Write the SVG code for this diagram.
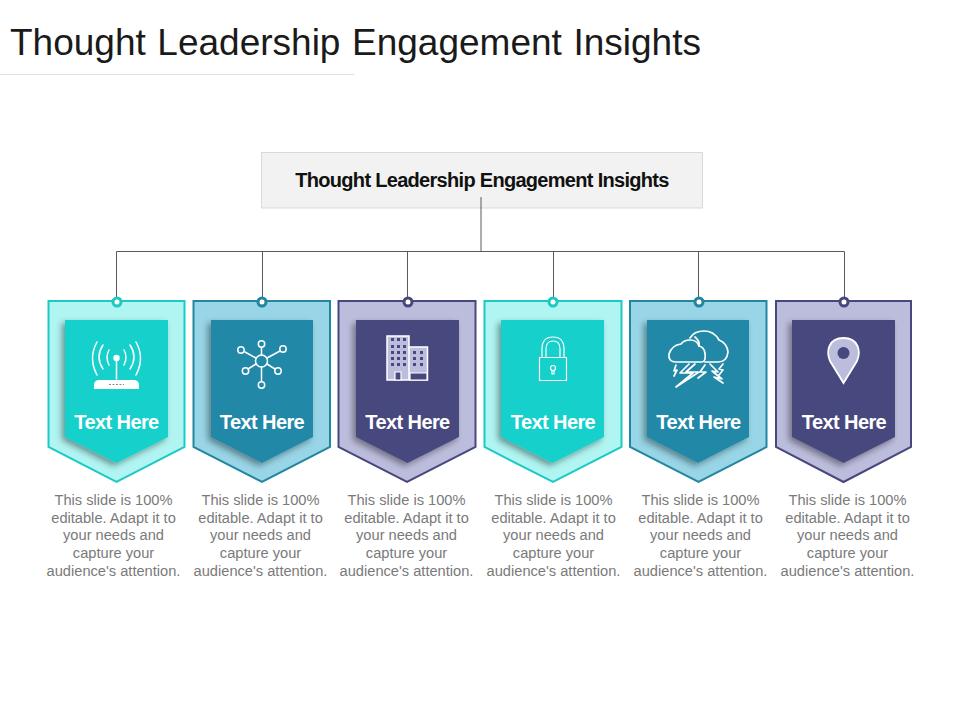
<svg xmlns="http://www.w3.org/2000/svg" xmlns:xlink="http://www.w3.org/1999/xlink" width="960" height="720" viewBox="0 0 960 720">
<style>
text{font-family:"Liberation Sans",Arial,sans-serif}
.title{font-size:37px;fill:#1a1a1a;word-spacing:1.300px}
.head{font-size:20px;font-weight:bold;fill:#111;text-anchor:middle;letter-spacing:-.7px}
.lab{font-size:20px;font-weight:bold;fill:#fff;text-anchor:middle;letter-spacing:-.6px}
.body{font-size:14.650px;fill:#7a7a7a;text-anchor:middle}
.con{fill:none;stroke:#5a5a5a;stroke-width:1}
.i{fill:none;stroke:#fff;stroke-width:1.500;stroke-linecap:round;stroke-linejoin:round}
.t .o{fill:#b0f5f2;stroke:#1cc9c5}.t .n{fill:#12d0cb}.t .d{stroke:#1cc9c5}
.b .o{fill:#98d5e6;stroke:#23859f}.b .n{fill:#2388a8}.b .d{stroke:#23859f}
.p .o{fill:#bcbcdc;stroke:#46487e}.p .n{fill:#46487e}.p .d{stroke:#46487e}
.o{stroke-width:2}.d{fill:#fff;stroke-width:3}
</style>
<defs>
<filter id="sh" x="-20%" y="-20%" width="140%" height="140%"><feDropShadow dx="-3" dy="3" stdDeviation="3" flood-color="#000" flood-opacity=".4"/></filter>
<g id="txt"><text class="body" y="505">This slide is 100%</text><text class="body" y="523">editable. Adapt it to</text><text class="body" y="540">your needs and</text><text class="body" y="558">capture your</text><text class="body" y="576">audience's attention.</text></g>
</defs>
<rect width="960" height="720" fill="#fff"/>
<text class="title" x="10" y="55">Thought Leadership Engagement Insights</text>
<rect x="0" y="74" width="354" height="1" fill="#e0e0e0"/>
<g id="header"><rect x="261.500" y="152.500" width="441" height="55.500" fill="#f2f2f2" stroke="#d9d9d9"/><text class="head" x="482" y="187">Thought Leadership Engagement Insights</text></g>
<g id="connectors"><path class="con" d="M481 197V252M116.500 297V251.500H844.500V297M262.500 251.500V297M407.500 251.500V297M553.500 251.500V297M698.500 251.500V297"/></g>

<g id="node1" class="t"><path class="o" d="M48.500 301H184.500V447L116.500 482L48.500 447Z"/><path class="n" filter="url(#sh)" d="M65 320H168V437L116.500 463L65 437Z"/><circle class="d" cx="117" cy="302" r="4"/>
<g><path class="i" d="M116.500 359V379M109 350Q105 357 109 365M124 350Q128 357 124 365M103 345Q95 357 103 369M130 345Q138 357 130 369M97 342Q88 358 97 375M136 342Q145 358 136 375"/><circle cx="116.500" cy="358" r="3.200" fill="#fff"/><path fill="#fff" d="M94 389V384Q95 380 99 380H134Q138 380 139 384V389Z"/><path stroke="#888" stroke-width="1" stroke-dasharray="2 1.500" d="M109 384.500H124"/></g>
<text class="lab" x="116.500" y="429">Text Here</text><use xlink:href="#txt" href="#txt" x="113.500"/></g>

<g id="node2" class="b"><path class="o" d="M193.500 301H330V447L262 482L193.500 447Z"/><path class="n" filter="url(#sh)" d="M211 320H313V437L262 463L211 437Z"/><circle class="d" cx="262" cy="302" r="4"/>
<g class="i"><circle cx="261.500" cy="361" r="6"/><path d="M261.500 355V348M261.500 367V381M256 358L245 352M267 358L280 351M256 364L248 369M267 364L275 369"/><circle cx="261.500" cy="344" r="3.200"/><circle cx="241" cy="350" r="3.200"/><circle cx="283" cy="349" r="3.200"/><circle cx="245.500" cy="371" r="3.200"/><circle cx="278" cy="371" r="3.200"/><circle cx="261.500" cy="385" r="3.200"/></g>
<text class="lab" x="262" y="429">Text Here</text><use xlink:href="#txt" href="#txt" x="260.500"/></g>

<g id="node3" class="p"><path class="o" d="M338.500 301H475.500V447L407 482L338.500 447Z"/><path class="n" filter="url(#sh)" d="M356 320H459V437L407.500 463L356 437Z"/><circle class="d" cx="408" cy="302" r="4"/>
<g><path fill="#bcbcdc" stroke="#fff" stroke-width="1.500" d="M387 336H409V380H387ZM409 347H427.500V380H409Z"/>
<path fill="#46487e" d="M391 338h3v3h-3zM397 338h3v3h-3zM403 338h3v3h-3zM391 345h3v3h-3zM397 345h3v3h-3zM403 345h3v3h-3zM391 351h3v3h-3zM397 351h3v3h-3zM403 351h3v3h-3zM391 357h3v3h-3zM397 357h3v3h-3zM403 357h3v3h-3zM391 363h3v3h-3zM397 363h3v3h-3zM403 363h3v3h-3zM413 351h3v3h-3zM420 351h3v3h-3zM413 357h3v3h-3zM420 357h3v3h-3zM413 363h3v3h-3zM420 363h3v3h-3z"/>
<path fill="#46487e" stroke="#fff" stroke-width="1.200" d="M395 380V372H401V380ZM410 373H427V380H410Z"/></g>
<text class="lab" x="407.500" y="429">Text Here</text><use xlink:href="#txt" href="#txt" x="406.500"/></g>

<g id="node4" class="t"><path class="o" d="M484.500 301H621.500V447L553 482L484.500 447Z"/><path class="n" filter="url(#sh)" d="M501 320H604V437L552.500 463L501 437Z"/><circle class="d" cx="553" cy="302" r="4"/>
<g class="i" style="stroke-width:1.200"><rect x="539.500" y="357.500" width="27" height="23"/><path d="M542 357V349Q542 337 553 337Q564 337 564 349V357M546 357V349Q546 341 553 341Q560 341 560 349V357"/><circle cx="553" cy="368" r="2.500"/><path d="M552 370.500V374H554V370.500"/></g>
<text class="lab" x="553" y="429">Text Here</text><use xlink:href="#txt" href="#txt" x="553.500"/></g>

<g id="node5" class="b"><path class="o" d="M630 301H766.500V447L698.500 482L630 447Z"/><path class="n" filter="url(#sh)" d="M647 320H749V437L698 463L647 437Z"/><circle class="d" cx="699" cy="302" r="4"/>
<g class="i" style="stroke-width:1.700"><path d="M676 362H702Q706 362 705 353Q704 347 699 346Q697 340 690 340Q684 340 681 344Q672 345 669 354Q668 362 676 362Z"/><path d="M690 338Q694 331 704 331Q714 331 719 340Q727 343 728 352Q727 362 718 362H705M699 346Q700 341 695 337"/><path d="M689 364L680 373H693L676 387L699 372H686L695 364M676 365L674 371L677 370L674 376M705 365L700 372H706L698 378M710 364L718 372L712 371L722 379L714 377L723 383M723 364L719 369L723 370L719 375"/></g>
<text class="lab" x="698.500" y="429">Text Here</text><use xlink:href="#txt" href="#txt" x="700.500"/></g>

<g id="node6" class="p"><path class="o" d="M776 301H911V447L843.500 482L776 447Z"/><path class="n" filter="url(#sh)" d="M792 320H895V437L843.500 463L792 437Z"/><circle class="d" cx="844" cy="302" r="4"/>
<g><path fill="#bcbcdc" stroke="#fff" stroke-width="1.800" d="M843.500 383L830 361C826 352 828 338 843.500 338C859 338 861 352 857 361Z"/><circle cx="843.500" cy="353" r="6" fill="#46487e"/></g>
<text class="lab" x="844" y="429">Text Here</text><use xlink:href="#txt" href="#txt" x="847.500"/></g>
</svg>
